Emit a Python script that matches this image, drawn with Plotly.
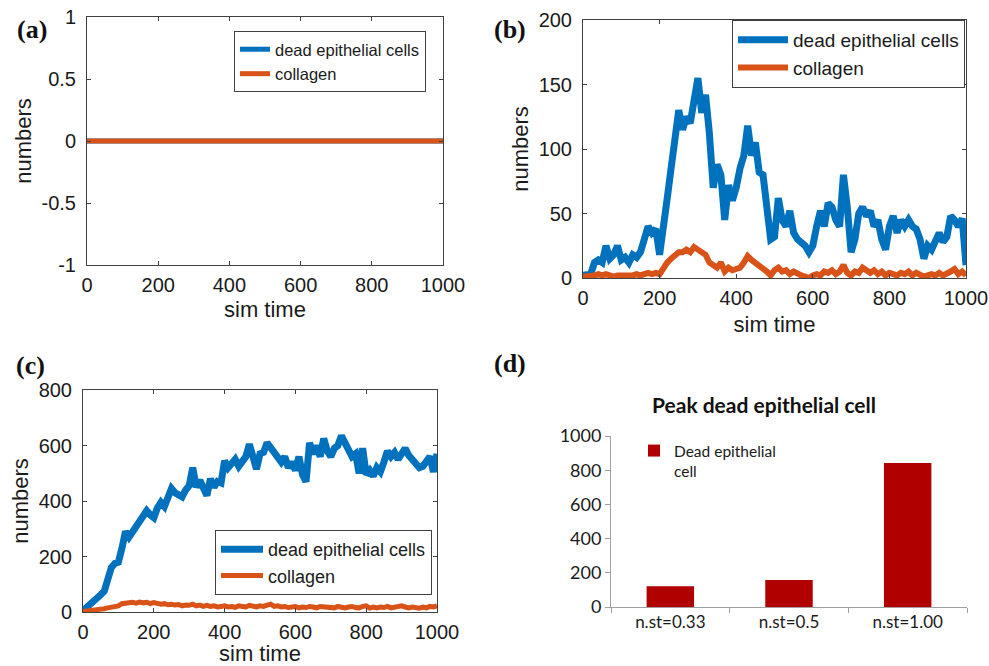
import plotly.graph_objects as go

# ---------------- data ----------------
t_a = [0, 1000]
dead_a = [0, 0]
coll_a = [0, 0]

t_b = list(range(0, 1001, 10))
dead_b = [2, 2, 3, 12, 14, 12, 25, 15, 18, 25,
          14, 16, 12, 18, 16, 20, 30, 40, 35, 38,
          18, 45, 62, 85, 105, 130, 115, 125, 120, 135,
          155, 128, 142, 112, 70, 88, 80, 45, 72, 60,
          70, 85, 95, 118, 95, 105, 82, 80, 55, 30,
          32, 62, 45, 40, 52, 35, 30, 28, 25, 20,
          25, 40, 52, 40, 58, 55, 45, 40, 80, 55,
          20, 30, 50, 55, 48, 52, 40, 45, 30, 22,
          40, 48, 35, 45, 40, 45, 40, 38, 30, 15,
          25, 22, 28, 35, 28, 32, 48, 45, 40, 46,
          10]
coll_b = [1, 1, 2, 2, 3, 2, 3, 2, 1, 2,
          2, 1, 2, 2, 3, 2, 3, 4, 3, 4,
          3, 8, 12, 15, 18, 20, 20, 22, 20, 24,
          22, 20, 18, 12, 10, 8, 12, 5, 8, 6,
          7, 8, 12, 17, 14, 12, 10, 8, 5, 2,
          6, 8, 5, 6, 3, 5, 3, 2, 1, 0,
          2, 3, 2, 5, 4, 6, 3, 5, 10, 4,
          2, 5, 4, 8, 6, 4, 6, 3, 5, 2,
          4, 3, 2, 4, 3, 5, 2, 4, 2, 1,
          2, 3, 2, 4, 2, 3, 5, 7, 3, 5,
          2]

t_c = list(range(0, 1001, 10))
dead_c = [5, 15, 30, 40, 48, 62, 75, 110, 160, 175,
          180, 230, 290, 270, 290, 300, 330, 345, 365, 350,
          340, 375, 395, 380, 420, 445, 430, 425, 415, 440,
          455, 520, 450, 475, 440, 420, 480, 450, 470, 465,
          545, 520, 535, 550, 525, 540, 560, 605, 560, 515,
          570, 575, 610, 590, 570, 555, 540, 560, 520, 540,
          510, 560, 495, 470, 610, 570, 600, 560, 625, 580,
          560, 590, 600, 635, 610, 585, 560, 570, 500, 590,
          495, 510, 490, 520, 505, 540, 580, 560, 575, 550,
          570, 590, 565, 550, 540, 520, 525, 540, 560, 505,
          570]
coll_c = [2, 3, 5, 6, 8, 10, 12, 15, 18, 20,
          22, 30, 32, 30, 35, 32, 36, 33, 35, 30,
          34, 31, 28, 30, 26, 28, 25, 27, 22, 25,
          24, 28, 22, 25, 20, 24, 20, 22, 18, 20,
          22, 18, 20, 17, 22, 20, 18, 24, 20, 18,
          22, 20, 25, 28, 20, 22, 18, 20, 16, 18,
          20, 15, 18, 16, 20, 18, 15, 20, 18, 16,
          18, 15, 20, 17, 15, 18, 20, 16, 15, 20,
          22, 14, 18, 15, 18, 16, 20, 15, 18, 20,
          22, 18, 15, 18, 16, 14, 18, 15, 20, 18,
          22]

bar_cats = ["n.st=0.33", "n.st=0.5", "n.st=1.00"]
bar_vals = [121, 158, 842]

time_ticks = [0, 200, 400, 600, 800, 1000]
a_yticks = [-1, -0.5, 0, 0.5, 1]
a_yticktext = ["-1", "-0.5", "0", "0.5", "1"]
b_yticks = [0, 50, 100, 150, 200]
c_yticks = [0, 200, 400, 600, 800]
d_yticks = [0, 200, 400, 600, 800, 1000]

# ---------------- style ----------------
BLUE = "#0072BD"
ORANGE = "#D95319"
BAR = "#B00000"
AXC = "#404040"
SANS = "Liberation Sans"
CAL = "Lato"

W, H = 989, 666


def px_x(a, b):
    return [a / W, b / W]


def px_y(top, bottom):
    return [1 - bottom / H, 1 - top / H]


def mat_x(domain, anchor, rng, title_standoff):
    return dict(domain=domain, anchor=anchor, range=rng, tickvals=time_ticks,
                showline=True, linecolor=AXC, linewidth=1, mirror="allticks",
                ticks="inside", ticklen=4, tickcolor=AXC, showgrid=False,
                zeroline=False, ticklabelstandoff=2,
                tickfont=dict(family=SANS, size=20, color="#1a1a1a"),
                title=dict(text="sim time", standoff=title_standoff,
                           font=dict(family=SANS, size=22, color="#1a1a1a")))


def mat_y(domain, anchor, rng, tickvals, ticktext=None, title_standoff=3):
    d = dict(domain=domain, anchor=anchor, range=rng, tickvals=tickvals,
             showline=True, linecolor=AXC, linewidth=1, mirror="allticks",
             ticks="inside", ticklen=4, tickcolor=AXC, showgrid=False,
             zeroline=False, ticklabelstandoff=6,
             tickfont=dict(family=SANS, size=20, color="#1a1a1a"),
             title=dict(text="numbers", standoff=title_standoff,
                        font=dict(family=SANS, size=22, color="#1a1a1a")))
    if ticktext is not None:
        d["ticktext"] = ticktext
    return d


fig = go.Figure()

# (a)
fig.add_trace(go.Scatter(x=t_a, y=dead_a, mode="lines", name="dead epithelial cells",
                         line=dict(color=BLUE, width=5), xaxis="x", yaxis="y", legend="legend"))
fig.add_trace(go.Scatter(x=t_a, y=coll_a, mode="lines", name="collagen",
                         line=dict(color=ORANGE, width=5), xaxis="x", yaxis="y", legend="legend"))
# (b)
fig.add_trace(go.Scatter(x=t_b, y=dead_b, mode="lines", name="dead epithelial cells",
                         line=dict(color=BLUE, width=7), xaxis="x2", yaxis="y2", legend="legend2"))
fig.add_trace(go.Scatter(x=t_b, y=coll_b, mode="lines", name="collagen",
                         line=dict(color=ORANGE, width=6), xaxis="x2", yaxis="y2", legend="legend2"))
# (c)
fig.add_trace(go.Scatter(x=t_c, y=dead_c, mode="lines", name="dead epithelial cells",
                         line=dict(color=BLUE, width=7), xaxis="x3", yaxis="y3", legend="legend3"))
fig.add_trace(go.Scatter(x=t_c, y=coll_c, mode="lines", name="collagen",
                         line=dict(color=ORANGE, width=5), xaxis="x3", yaxis="y3", legend="legend3"))
# (d)
fig.add_trace(go.Bar(x=bar_cats, y=bar_vals, name="Dead epithelial<br>cell",
                     marker=dict(color=BAR, line=dict(width=0)), width=0.4,
                     xaxis="x4", yaxis="y4", legend="legend4"))

legend_common = dict(bgcolor="white", bordercolor=AXC, borderwidth=1,
                     xanchor="right", yanchor="top", tracegroupgap=0)

fig.update_layout(
    width=W, height=H, margin=dict(l=0, r=0, t=0, b=0, autoexpand=False),
    paper_bgcolor="white", plot_bgcolor="white", showlegend=True,
    xaxis=mat_x(px_x(87, 443), "y", [0, 1000], 6),
    yaxis=mat_y(px_y(17, 265), "x", [-1, 1], a_yticks, a_yticktext),
    xaxis2=mat_x(px_x(583, 966), "y2", [0, 1000], 8),
    yaxis2=mat_y(px_y(20, 278), "x2", [0, 200], b_yticks),
    xaxis3=mat_x(px_x(83, 437), "y3", [0, 1000], 2),
    yaxis3=mat_y(px_y(390, 612), "x3", [0, 800], c_yticks),
    xaxis4=dict(domain=px_x(611, 967), anchor="y4", showline=True, linecolor="#a0a0a0",
                ticks="outside", tickson="boundaries", ticklen=5, tickcolor="#a0a0a0",
                showgrid=False, zeroline=False,
                tickfont=dict(family=CAL, size=17, color="#1a1a1a")),
    yaxis4=dict(domain=px_y(436, 607), anchor="x4", range=[0, 1000], tickvals=d_yticks,
                showline=True, linecolor="#a0a0a0", ticks="outside", ticklen=5,
                tickcolor="#a0a0a0", showgrid=False, zeroline=False,
                tickfont=dict(family=CAL, size=18, color="#1a1a1a")),
    legend=dict(**legend_common, x=426 / W, y=1 - 31 / H,
                font=dict(family=SANS, size=16.5, color="#1a1a1a")),
    legend2=dict(**legend_common, x=965 / W, y=1 - 20 / H, itemwidth=50,
                 font=dict(family=SANS, size=19, color="#1a1a1a")),
    legend3=dict(**legend_common, x=432 / W, y=1 - 530 / H, itemwidth=42,
                 font=dict(family=SANS, size=18, color="#1a1a1a")),
    legend4=dict(bgcolor="rgba(0,0,0,0)", borderwidth=0, xanchor="left", yanchor="top",
                 x=634 / W, y=1 - 434 / H, valign="top",
                 font=dict(family=CAL, size=15.5, color="#1a1a1a")),
)

annots = [
    dict(text="<b>(a)</b>", x=32 / W, y=1 - 30 / H),
    dict(text="<b>(b)</b>", x=510 / W, y=1 - 30 / H),
    dict(text="<b>(c)</b>", x=31 / W, y=1 - 365 / H),
    dict(text="<b>(d)</b>", x=510 / W, y=1 - 363 / H),
]
for a in annots:
    fig.add_annotation(xref="paper", yref="paper", showarrow=False, xanchor="center",
                       yanchor="middle", font=dict(family="Liberation Serif", size=26,
                                                   color="#111111"), **a)
fig.add_annotation(xref="paper", yref="paper", showarrow=False, xanchor="center",
                   yanchor="middle", x=764 / W, y=1 - 404 / H,
                   text="<b>Peak dead epithelial cell</b>",
                   font=dict(family=CAL, size=21, color="#111111"))

fig.write_html("out.html", config={"displayModeBar": False},
               post_script="document.body.style.margin='0';document.body.style.overflow='hidden';")
